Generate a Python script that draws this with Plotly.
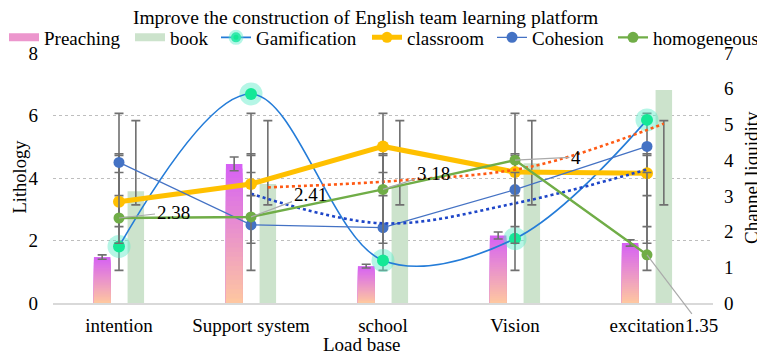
import plotly.graph_objects as go
import numpy as np

categories = ["intention", "Support system", "school", "Vision", "excitation"]
preaching = [1.47, 4.45, 1.18, 2.16, 1.92]          # left axis
preaching_err = [0.07, 0.22, 0.06, 0.11, 0.10]      # 5% error bars
book = [3.58, 3.81, 3.76, 4.47, 6.82]               # left axis
gamification = [1.81, 6.69, 1.36, 2.06, 5.86]       # left axis
classroom = [3.24, 3.81, 5.01, 4.19, 4.15]          # left axis
cohesion = [4.50, 2.50, 2.41, 3.63, 5.01]           # left axis
homogeneous = [2.38, 2.41, 3.18, 4, 1.35]           # right axis
book_trend = [None, 3.70, 3.92, 4.37, 5.74]         # orange dotted (left axis)
cohesion_trend = [None, 3.50, 2.55, 3.19, 4.27]     # blue dotted (left axis)
left_ticks = [0, 2, 4, 6, 8]
right_ticks = [0, 1, 2, 3, 4, 5, 6, 7]

FONT = "Liberation Serif"
PAGE = 8                      # default body margin of the html page
W, H = 765 - PAGE, 354 - PAGE
ML, MR, MT, MB = 45, 52, 45, 51
PW, PH = W - ML - MR, H - MT - MB
xi = list(range(len(categories)))
PRE_OFF, BOOK_OFF, BW = -0.19, 0.065, 0.125
ERR_COL = "rgb(112,112,112)"


def px_x(px):   # window px -> paper x
    return (px - PAGE - ML) / PW


def px_y(py):   # window px -> paper y
    return (H - MB - (py - PAGE)) / PH


fig = go.Figure()

# Preaching bars with vertical gradient (magenta top -> peach bottom)
N = 30
top_c = np.array([214, 96, 246])
bot_c = np.array([255, 200, 160])
for k in range(N):
    frac_top = (N - k) / N
    t = (N - k - 0.5) / N
    c = bot_c + (top_c - bot_c) * t
    fig.add_trace(go.Bar(
        x=xi, y=[v * frac_top for v in preaching], offset=PRE_OFF, width=BW,
        marker=dict(color=f"rgb({int(c[0])},{int(c[1])},{int(c[2])})", line=dict(width=0)),
        showlegend=False, hoverinfo="skip"))

# book bars
fig.add_trace(go.Bar(x=xi, y=book, offset=BOOK_OFF, width=BW,
                     marker=dict(color="rgb(204,227,204)", line=dict(width=0)),
                     showlegend=False, name="book"))


def err_trace(x, center, err, yaxis="y", w=4.5):
    return go.Scatter(x=x, y=center, mode="markers", yaxis=yaxis,
                      marker=dict(color="rgba(0,0,0,0)", size=1),
                      error_y=dict(type="data", array=err, visible=True, color=ERR_COL,
                                   thickness=1.6, width=w),
                      showlegend=False, hoverinfo="skip")


# preaching percent error bars
fig.add_trace(err_trace([i + PRE_OFF + BW / 2 for i in xi], preaching, preaching_err))
# book standard-deviation error bars (centred on the series mean, Excel style)
bm, bs = float(np.mean(book)), float(np.std(book, ddof=1))
fig.add_trace(err_trace([i + BOOK_OFF + BW / 2 for i in xi], [bm] * 5, [bs] * 5))
# line series std error bars, centred on series mean
for s in (gamification, classroom, cohesion):
    m, sd = float(np.mean(s)), float(np.std(s, ddof=1))
    fig.add_trace(err_trace(xi, [m] * 5, [sd] * 5))

# Gamification (spline, with halo markers)
fig.add_trace(go.Scatter(x=xi, y=gamification, mode="markers",
                         marker=dict(size=23, color="rgba(90,235,200,0.45)"),
                         showlegend=False, hoverinfo="skip"))
fig.add_trace(go.Scatter(x=xi, y=gamification, mode="lines+markers", name="Gamification",
                         line=dict(color="rgb(36,124,216)", width=1.6, shape="spline", smoothing=1),
                         marker=dict(size=12, color="rgb(20,232,150)"), showlegend=False))
# classroom
fig.add_trace(go.Scatter(x=xi, y=classroom, mode="lines+markers", name="classroom",
                         line=dict(color="rgb(255,192,0)", width=5),
                         marker=dict(size=12, color="rgb(255,192,0)"), showlegend=False))
# Cohesion
fig.add_trace(go.Scatter(x=xi, y=cohesion, mode="lines+markers", name="Cohesion",
                         line=dict(color="rgb(68,114,196)", width=1.2),
                         marker=dict(size=11, color="rgb(68,114,196)"), showlegend=False))
# trend lines
fig.add_trace(go.Scatter(x=[i + BOOK_OFF + BW / 2 for i in xi], y=book_trend, mode="lines",
                         line=dict(color="rgb(255,90,20)", width=2.6, dash="dot", shape="spline"),
                         showlegend=False, hoverinfo="skip"))
fig.add_trace(go.Scatter(x=xi, y=cohesion_trend, mode="lines",
                         line=dict(color="rgb(30,70,200)", width=2.6, dash="dot", shape="spline"),
                         showlegend=False, hoverinfo="skip"))

# homogeneous on right axis
hm, hs = float(np.mean(homogeneous)), float(np.std(homogeneous, ddof=1))
fig.add_trace(err_trace(xi, [hm] * 5, [hs] * 5, yaxis="y2"))
fig.add_trace(go.Scatter(x=xi, y=homogeneous, mode="lines+markers", name="homogeneous", yaxis="y2",
                         line=dict(color="rgb(112,173,71)", width=2.4),
                         marker=dict(size=11, color="rgb(112,173,71)"), showlegend=False))

# legend-only entries, one legend each so they sit on a single row
leg = [
    dict(name="Preaching", mode="lines", line=dict(color="rgb(236,150,205)", width=8)),
    dict(name="book", mode="lines", line=dict(color="rgb(204,227,204)", width=8)),
    dict(name="Gamification", mode="lines+markers", line=dict(color="rgb(36,124,216)", width=1.6),
         marker=dict(size=10, color="rgb(20,232,150)", line=dict(width=6, color="rgba(90,235,200,0.45)"))),
    dict(name="classroom", mode="lines+markers", line=dict(color="rgb(255,192,0)", width=5),
         marker=dict(size=11, color="rgb(255,192,0)")),
    dict(name="Cohesion", mode="lines+markers", line=dict(color="rgb(68,114,196)", width=1.2),
         marker=dict(size=11, color="rgb(68,114,196)")),
    dict(name="homogeneous", mode="lines+markers", line=dict(color="rgb(112,173,71)", width=2.4),
         marker=dict(size=11, color="rgb(112,173,71)")),
]
legend_text_x = [45, 171, 257, 408, 533, 654]
legend_layouts = {}
for r, d in enumerate(leg):
    lname = "legend" if r == 0 else f"legend{r + 1}"
    fig.add_trace(go.Scatter(x=[None], y=[None], showlegend=True, legend=lname, **d))
    legend_layouts[lname] = dict(
        orientation="h", x=px_x(legend_text_x[r] - 41), xanchor="left",
        y=px_y(37.5), yanchor="middle", itemwidth=30, bgcolor="rgba(0,0,0,0)",
        font=dict(family=FONT, size=19, color="black"))

# data labels for homogeneous with leader lines
label_offsets = [(54, -6), (59, -22), (50, -16), (61, -3), (54, 71)]
for i, v in enumerate(homogeneous):
    ax, ay = label_offsets[i]
    fig.add_annotation(x=xi[i], y=v, xref="x", yref="y2", text=f"{v:g}",
                       showarrow=True, arrowhead=0, arrowcolor="rgb(170,170,170)", arrowwidth=1.2,
                       ax=ax, ay=ay, font=dict(family=FONT, size=19, color="black"))

# axis titles
fig.add_annotation(text="Load base", xref="paper", yref="paper", x=px_x(361.5), y=px_y(344),
                   showarrow=False, xanchor="center", yanchor="middle",
                   font=dict(family=FONT, size=19, color="black"))
fig.add_annotation(text="Lithology", xref="paper", yref="paper", x=px_x(19.5), y=px_y(177),
                   showarrow=False, xanchor="center", yanchor="middle", textangle=-90,
                   font=dict(family=FONT, size=18.5, color="black"))
fig.add_annotation(text="Channel liquidity", xref="paper", yref="paper", x=px_x(751), y=px_y(178),
                   showarrow=False, xanchor="center", yanchor="middle", textangle=-90,
                   font=dict(family=FONT, size=19, color="black"))

fig.update_layout(
    width=W, height=H,
    margin=dict(l=ML, r=MR, t=MT, b=MB, autoexpand=False),
    paper_bgcolor="white", plot_bgcolor="white",
    barmode="overlay",
    font=dict(family=FONT, size=19, color="black"),
    title=dict(text="Improve the construction of English team learning platform",
               x=(365.5 - PAGE) / W, xanchor="center", y=1 - 9.5 / H, yanchor="middle",
               font=dict(family=FONT, size=19.5, color="black")),
    xaxis=dict(range=[-0.5, 4.5], tickmode="array", tickvals=xi, ticktext=categories,
               showgrid=False, zeroline=False, showline=True, linecolor="rgb(217,217,217)",
               linewidth=2, ticks="", ticklabelstandoff=4, automargin=False),
    yaxis=dict(range=[0, 8], tickmode="array", tickvals=left_ticks, showgrid=True,
               gridcolor="rgb(190,190,190)", griddash="dot", gridwidth=1, zeroline=False,
               showline=False, ticks="", ticklabelstandoff=14, automargin=False),
    yaxis2=dict(range=[0, 7], tickmode="array", tickvals=right_ticks, overlaying="y", side="right",
                showgrid=False, zeroline=False, showline=False, ticks="", ticklabelstandoff=10,
                automargin=False),
    hovermode=False,
    **legend_layouts,
)

fig.write_html("out.html")
